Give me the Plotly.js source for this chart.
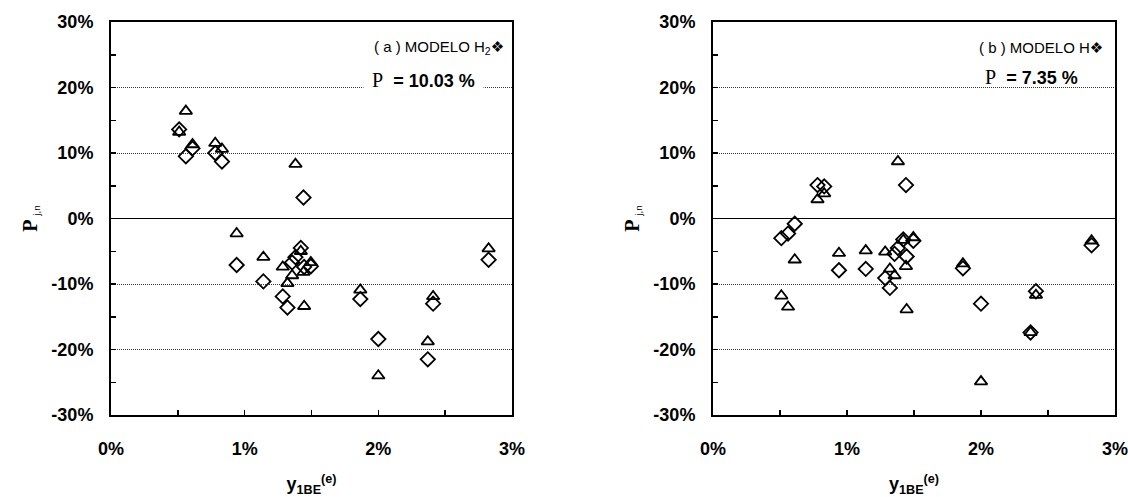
<!DOCTYPE html>
<html><head><meta charset="utf-8">
<script src="https://cdn.plot.ly/plotly-3.0.1.min.js"></script>
<style>html,body{margin:0;padding:0;background:#fff}</style>
</head><body><div id="chart" style="width:1128px;height:497px"></div>
<script>
// composition y1BE (%) of each experiment
const xVals = [0.51, 0.56, 0.61, 0.78, 0.83, 0.94, 1.14, 1.285, 1.32, 1.355, 1.38, 1.42, 1.44, 1.445, 1.495, 1.865, 2.0, 2.37, 2.41, 2.825];
// panel (a) MODELO H2
const triA = [13.2, 16.4, 11.3, 11.5, 10.6, -2.3, -5.9, -7.4, -9.9, -8.7, 8.3, -5.0, -8.2, -13.4, -6.7, -10.9, -24.0, -18.8, -11.9, -4.6];
const diaA = [13.6, 9.5, 10.7, 10.0, 8.7, -7.1, -9.6, -11.9, -13.6, -6.7, -5.9, -4.5, 3.2, -7.4, -7.3, -12.3, -18.4, -21.5, -13.0, -6.3];
// panel (b) MODELO H
const triB = [-11.8, -13.5, -6.3, 2.9, 3.8, -5.3, -4.9, -5.1, -7.7, -8.7, 8.7, -3.3, -7.3, -13.9, -2.9, -6.9, -24.9, -17.4, -11.7, -3.4];
const diaB = [-3.0, -2.3, -0.8, 5.1, 4.9, -7.9, -7.7, -9.1, -10.6, -5.4, -4.5, -3.2, 5.1, -5.8, -3.4, -7.6, -13.0, -17.4, -11.1, -4.1];

const SYM = '<span style="font-family:DejaVu Sans;font-size:15px">❖</span>';
const panelTitles = ['( a ) MODELO H<sub>2</sub>' + SYM, '( b ) MODELO H' + SYM];
const panelP = ['10.03 %', '7.35 %'];
const xTickVals = [0, 1, 2, 3];
const xTickText = ['0%', '1%', '2%', '3%'];
const yTickVals = [-30, -20, -10, 0, 10, 20, 30];
const yTickText = ['-30%', '-20%', '-10%', '0%', '10%', '20%', '30%'];

const SANS = 'Liberation Sans, Arial, sans-serif';
const SERIF = 'Liberation Serif, Times New Roman, serif';

function mk(x, y, sym, size, xa, ya, name) {
  return {x: x, y: y, type: 'scatter', mode: 'markers', name: name, xaxis: xa, yaxis: ya,
    marker: {symbol: sym, size: size, color: '#000', line: {color: '#000', width: 1.8}},
    showlegend: false, cliponaxis: false};
}
const data = [
  mk(xVals, triA, 'triangle-up-open', 11, 'x', 'y', 'a-tri'),
  mk(xVals, diaA, 'diamond-open', 11, 'x', 'y', 'a-dia'),
  mk(xVals, triB, 'triangle-up-open', 11, 'x2', 'y2', 'b-tri'),
  mk(xVals, diaB, 'diamond-open', 11, 'x2', 'y2', 'b-dia')
];

function xaxis(domain, anchor) {
  return {domain: domain, anchor: anchor, range: [0, 3], tickmode: 'array', tickvals: xTickVals, ticktext: xTickText,
    ticks: 'inside', ticklen: 5, tickwidth: 1.5, tickcolor: '#000',
    minor: {tickmode: 'linear', tick0: 0, dtick: 0.5, ticks: 'inside', ticklen: 5, tickwidth: 1.5, tickcolor: '#000', showgrid: false},
    showline: true, linewidth: 2, linecolor: '#000', mirror: true, showgrid: false, zeroline: false,
    tickfont: {family: SANS, size: 18, color: '#000', weight: 'bold'}, ticklabelstandoff: 16, ticklabeloverflow: 'allow',
    title: {text: '<b>y<sub>1BE</sub><sup>(e)</sup></b>', font: {family: SANS, size: 18, color: '#000'}, standoff: 21},
    automargin: false, fixedrange: true};
}
function yaxis(domain, anchor) {
  return {domain: domain, anchor: anchor, range: [-30, 30], tickmode: 'array', tickvals: yTickVals, ticktext: yTickText,
    ticks: 'inside', ticklen: 5, tickwidth: 1.5, tickcolor: '#000',
    minor: {tickmode: 'linear', tick0: 0, dtick: 5, ticks: 'inside', ticklen: 5, tickwidth: 1.5, tickcolor: '#000', showgrid: false},
    showline: true, linewidth: 2, linecolor: '#000', mirror: true,
    showgrid: true, gridcolor: '#333', gridwidth: 1, griddash: '1px,1px',
    zeroline: true, zerolinecolor: '#000', zerolinewidth: 1.5,
    tickfont: {family: SANS, size: 18, color: '#000', weight: 'bold'}, ticklabelstandoff: 12, ticklabeloverflow: 'allow',
    title: {text: '<b>P</b><span style="font-family:Liberation Sans;font-size:14px"> <sub>j,n</sub></span>', font: {family: SERIF, size: 20, color: '#000'}, standoff: 8},
    automargin: false, fixedrange: true};
}

const annotations = [];
['x', 'x2'].forEach(function (xa, i) {
  const ya = i === 0 ? 'y' : 'y2';
  annotations.push({xref: xa + ' domain', yref: ya + ' domain', x: i === 0 ? 0.985 : 0.975, y: 0.935, xanchor: 'right', yanchor: 'middle',
    text: panelTitles[i], showarrow: false, font: {family: SANS, size: 15, color: '#000'}});
  annotations.push({xref: xa + ' domain', yref: ya + ' domain', x: i === 0 ? 0.93 : 0.915, y: i === 0 ? 0.852 : 0.86, xanchor: 'right', yanchor: 'middle',
    text: '<span style="font-family:Liberation Serif;font-size:20px">P</span>&nbsp;&nbsp;<b>= ' + panelP[i] + '</b>', showarrow: false,
    font: {family: SANS, size: 18, color: '#000'}, bgcolor: i === 0 ? '#fff' : 'rgba(0,0,0,0)', borderpad: i === 0 ? 8 : 2});
});

const layout = {
  width: 1128, height: 497, paper_bgcolor: '#fff', plot_bgcolor: '#fff',
  margin: {l: 111, r: 13, t: 22, b: 82},
  xaxis: xaxis([0, 0.3994], 'y'), yaxis: yaxis([0, 1], 'x'),
  xaxis2: xaxis([0.5996, 1.0], 'y2'), yaxis2: yaxis([0, 1], 'x2'),
  annotations: annotations, showlegend: false,
  font: {family: SANS, color: '#000'}
};
Plotly.newPlot('chart', data, layout, {displayModeBar: false, staticPlot: true});
</script></body></html>
